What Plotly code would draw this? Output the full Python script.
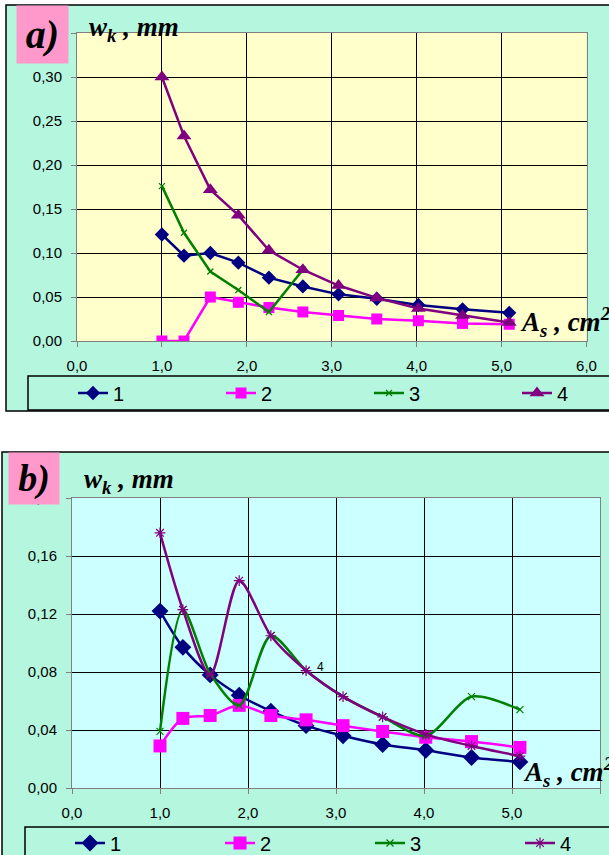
import plotly.graph_objects as go

# ---------------- data ----------------
x_as = [1.0, 1.26, 1.57, 1.9, 2.26, 2.66, 3.08, 3.53, 4.02, 4.54, 5.09]

a1 = [0.121, 0.097, 0.100, 0.089, 0.072, 0.062, 0.053, 0.048, 0.041, 0.036, 0.032]
a2 = [0.000, 0.000, 0.050, 0.044, 0.038, 0.033, 0.029, 0.025, 0.023, 0.020, 0.019]
a3 = [0.176, 0.123, 0.079, 0.058, 0.033, 0.081, None, None, None, None, None]
a4 = [0.300, 0.233, 0.172, 0.143, 0.103, 0.081, 0.063, 0.049, 0.037, 0.029, 0.021]

b1 = [0.122, 0.097, 0.078, 0.064, 0.053, 0.043, 0.036, 0.030, 0.026, 0.021, 0.018]
b2 = [0.029, 0.048, 0.050, 0.057, 0.050, 0.047, 0.043, 0.039, 0.035, 0.032, 0.028]
b3 = [0.039, 0.123, 0.079, 0.057, 0.105, 0.081, 0.063, 0.049, 0.036, 0.063, 0.054]
b4 = [0.176, 0.123, 0.078, 0.143, 0.105, 0.081, 0.063, 0.049, 0.037, 0.029, 0.022]

names = ["1", "2", "3", "4"]
x_ticks = [0, 1, 2, 3, 4, 5, 6]
ya_ticks = [0.0, 0.05, 0.10, 0.15, 0.20, 0.25, 0.30, 0.35]
yb_ticks = [0.0, 0.04, 0.08, 0.12, 0.16, 0.20]

# ---------------- styles ----------------
W, H = 609, 855
colors = ["#000080", "#FF00FF", "#008000", "#800080"]
mint = "#B5F6DF"
pink = "#FF99CC"
sans = "Liberation Sans, Arial, sans-serif"
serif = "Liberation Serif, Times New Roman, serif"

def px(x):
    return x / W

def py(y):
    return 1 - y / H

fig = go.Figure()

sym_a = [dict(symbol="diamond", size=11), dict(symbol="square", size=11),
         dict(symbol="x-thin-open", size=6, line=dict(width=1.2, color=colors[2])),
         dict(symbol="triangle-up", size=13)]
sym_b = [dict(symbol="diamond", size=13), dict(symbol="square", size=13),
         dict(symbol="x-thin-open", size=7, line=dict(width=1.2, color=colors[2])),
         dict(symbol="asterisk-open", size=9, line=dict(width=1.2, color=colors[3]))]

for i, ys in enumerate([a1, a2, a3, a4]):
    m = dict(sym_a[i]); m["color"] = colors[i]
    fig.add_trace(go.Scatter(x=x_as, y=ys, name=names[i], mode="lines+markers",
                             line=dict(color=colors[i], width=2.5), marker=m,
                             xaxis="x", yaxis="y", legend="legend",
                             connectgaps=False))

for i, ys in enumerate([b1, b2, b3, b4]):
    m = dict(sym_b[i]); m["color"] = colors[i]
    fig.add_trace(go.Scatter(x=x_as, y=ys, name=names[i], mode="lines+markers",
                             line=dict(color=colors[i], width=2.5, shape="spline", smoothing=0.8),
                             marker=m, xaxis="x2", yaxis="y2", legend="legend2"))

axis_common = dict(showgrid=True, gridcolor="#000000", gridwidth=1,
                   showline=True, linecolor="#808080", linewidth=1, mirror=True,
                   ticks="outside", ticklen=5, tickcolor="#808080",
                   tickfont=dict(family=sans, size=15, color="#000"),
                   zeroline=False, fixedrange=True, automargin=False)

fig.update_layout(
    width=W, height=H,
    margin=dict(l=0, r=0, t=0, b=0, pad=0, autoexpand=False),
    paper_bgcolor="white", plot_bgcolor="rgba(0,0,0,0)",
    separators=", ",
    showlegend=True,
    xaxis=dict(domain=[px(77), px(586.5)], range=[0, 6], tickvals=x_ticks,
               tickformat=".1f", anchor="y", ticklabelstandoff=6, **axis_common),
    yaxis=dict(domain=[py(341), py(33)], range=[0, 0.35], tickvals=ya_ticks,
               tickformat=".2f", anchor="x", ticklabelstandoff=6, **axis_common),
    xaxis2=dict(domain=[px(72), px(600)], range=[0, 6], tickvals=x_ticks,
                tickformat=".1f", anchor="y2", ticklabelstandoff=6, **axis_common),
    yaxis2=dict(domain=[py(788), py(498)], range=[0, 0.20], tickvals=yb_ticks,
                tickformat=".2f", anchor="x2", ticklabelstandoff=6, **axis_common),
    legend=dict(orientation="h", x=px(73), y=py(393), xanchor="left", yanchor="middle",
                bgcolor="rgba(0,0,0,0)", entrywidth=103, entrywidthmode="pixels",
                font=dict(family=sans, size=20, color="#000"), itemclick=False),
    legend2=dict(orientation="h", x=px(70), y=py(843), xanchor="left", yanchor="middle",
                 bgcolor="rgba(0,0,0,0)", entrywidth=105, entrywidthmode="pixels",
                 font=dict(family=sans, size=20, color="#000"), itemclick=False),
)

shapes = [
    # panel a chart area
    dict(type="rect", xref="paper", yref="paper", x0=px(6), x1=px(640), y0=py(411), y1=py(5),
         fillcolor=mint, line=dict(color="#000", width=1.5), layer="below"),
    dict(type="rect", xref="paper", yref="paper", x0=px(77), x1=px(586.5), y0=py(341), y1=py(33),
         fillcolor="#FFFFCC", line=dict(width=0), layer="below"),
    dict(type="rect", xref="paper", yref="paper", x0=px(28), x1=px(640), y0=py(410), y1=py(376),
         fillcolor="rgba(0,0,0,0)", line=dict(color="#000", width=1.5), layer="below"),
    # panel b chart area
    dict(type="rect", xref="paper", yref="paper", x0=px(2), x1=px(640), y0=py(900), y1=py(452),
         fillcolor=mint, line=dict(color="#000", width=1.5), layer="below"),
    dict(type="rect", xref="paper", yref="paper", x0=px(72), x1=px(600), y0=py(788), y1=py(498),
         fillcolor="#CCFFFF", line=dict(width=0), layer="below"),
    dict(type="rect", xref="paper", yref="paper", x0=px(25), x1=px(640), y0=py(900), y1=py(827),
         fillcolor="rgba(0,0,0,0)", line=dict(color="#000", width=1.5), layer="below"),
]
fig.update_layout(shapes=shapes)

ann = [
    dict(text="<b><i>a)</i></b>", xref="paper", yref="paper", x=px(16), y=py(5),
         xanchor="left", yanchor="top", showarrow=False, bgcolor=pink,
         width=51, height=57, borderpad=0, font=dict(family=serif, size=40, color="#000")),
    dict(text="<b><i>b)</i></b>", xref="paper", yref="paper", x=px(8), y=py(452),
         xanchor="left", yanchor="top", showarrow=False, bgcolor=pink,
         width=50, height=51, borderpad=0, font=dict(family=serif, size=38, color="#000")),
    dict(text="<b><i>w<sub>k</sub> , mm</i></b>", xref="paper", yref="paper", x=px(87), y=py(29),
         xanchor="left", yanchor="middle", showarrow=False,
         font=dict(family=serif, size=27, color="#000")),
    dict(text="<b><i>w<sub>k</sub> , mm</i></b>", xref="paper", yref="paper", x=px(82), y=py(481),
         xanchor="left", yanchor="middle", showarrow=False,
         font=dict(family=serif, size=27, color="#000")),
    dict(text="<b><i>A<sub>s</sub> , cm<sup>2</sup></i></b>", xref="paper", yref="paper",
         x=px(518), y=py(322), xanchor="left", yanchor="middle", showarrow=False,
         font=dict(family=serif, size=27, color="#000")),
    dict(text="<b><i>A<sub>s</sub> , cm<sup>2</sup></i></b>", xref="paper", yref="paper",
         x=px(521), y=py(772), xanchor="left", yanchor="middle", showarrow=False,
         font=dict(family=serif, size=27, color="#000")),
    dict(text="4", xref="x2", yref="y2", x=x_as[5], y=b4[5], xshift=9, yshift=4,
         xanchor="left", yanchor="middle", showarrow=False,
         font=dict(family=sans, size=12, color="#000")),
]
fig.update_layout(annotations=ann)

fig.write_html("out.html", config={"displayModeBar": False},
               post_script="document.body.style.margin='0px';")
